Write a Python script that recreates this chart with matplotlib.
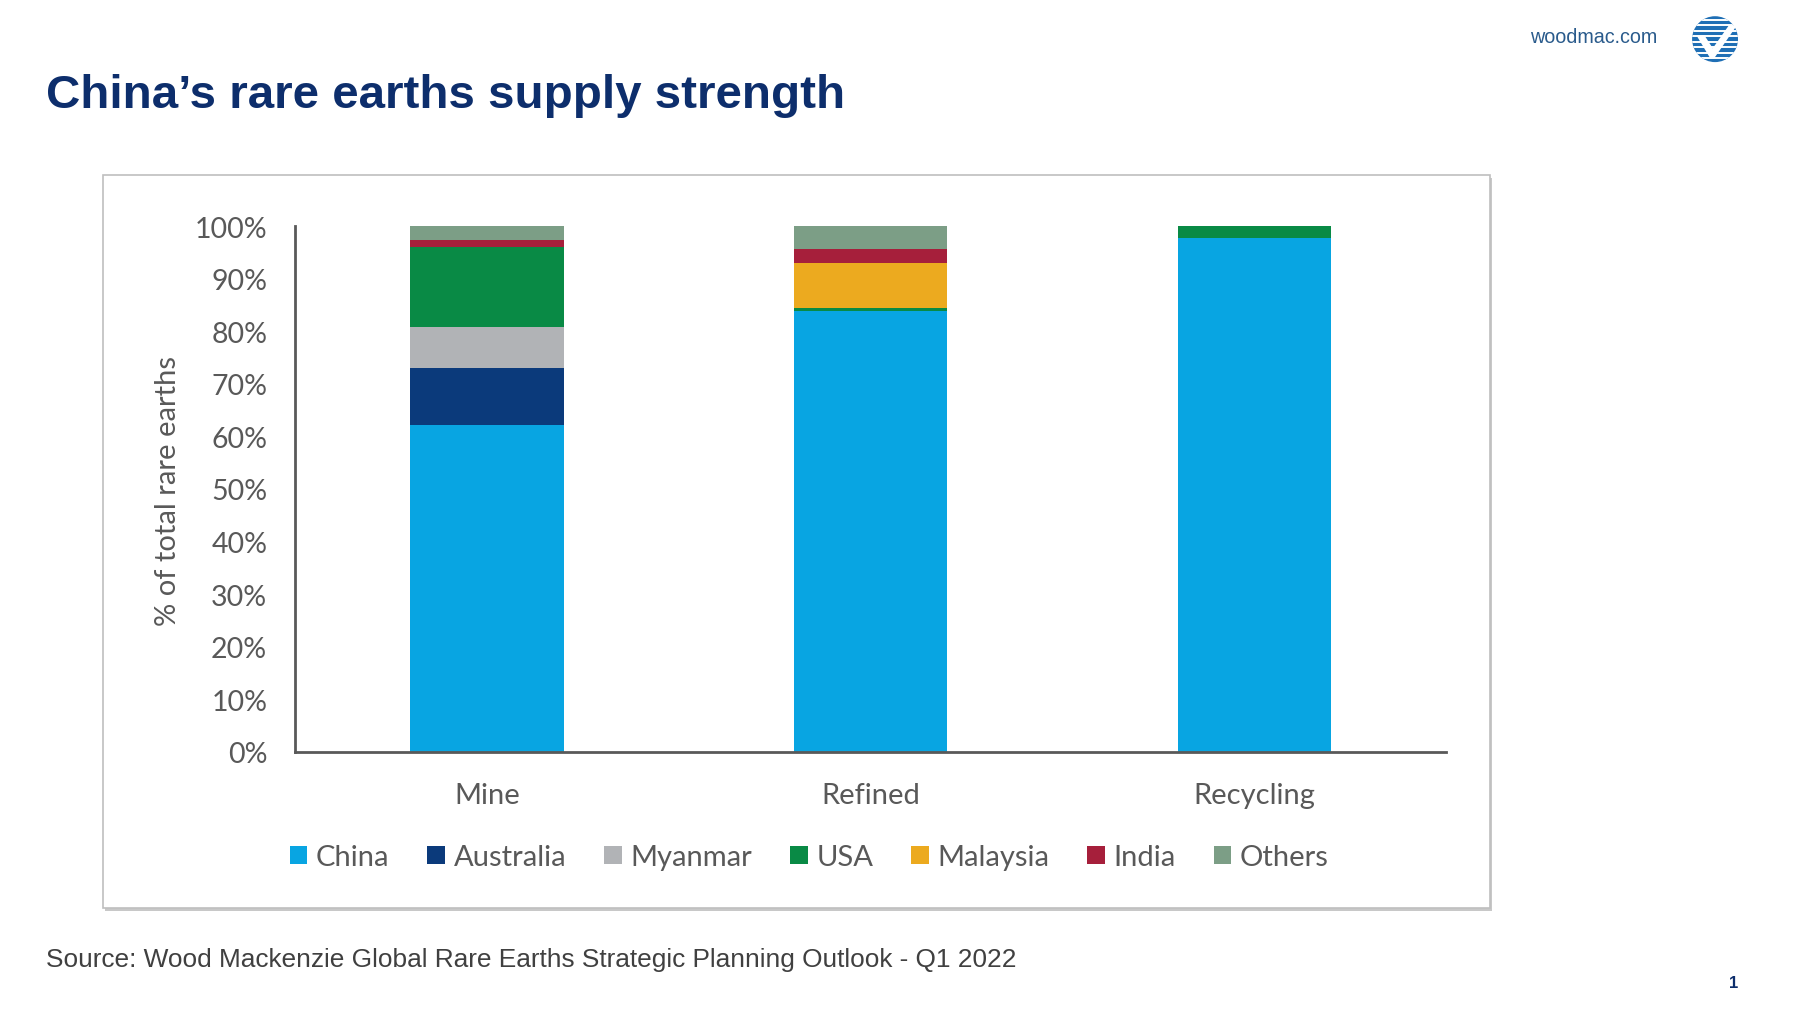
import numpy as np
import matplotlib
matplotlib.use('Agg')
import matplotlib.pyplot as plt
from matplotlib.patches import Rectangle, Circle, Polygon

# values, % of total rare earths
stages = ['Mine', 'Refined', 'Recycling']
countries = ['China', 'Australia', 'Myanmar', 'USA', 'Malaysia', 'India', 'Others']
china = [62.1, 83.8, 97.8]
australia = [11.0, 0.0, 0.0]
myanmar = [7.8, 0.0, 0.0]
usa = [15.1, 0.7, 2.2]
malaysia = [0.0, 8.4, 0.0]
india = [1.3, 2.7, 0.0]
others = [2.7, 4.4, 0.0]
yticks = [0, 10, 20, 30, 40, 50, 60, 70, 80, 90, 100]

colors = ['#08A5E2', '#0B3A7B', '#B1B3B6', '#098A45', '#ECAA1F', '#A61F3B', '#7C9E86']
navy = '#0D2E6C'
grey_txt = '#595959'

# layout measured on the reference in screen pixels
W, H = 1568.0, 882.0


def fx(px):
    return px / W


def fy(py):
    return 1 - py / H


fig = plt.figure(figsize=(18, 10.12), dpi=100)
fig.patch.set_facecolor('white')

# slide frame with a soft shadow
fw, fh = fx(1298) - fx(90), fy(153) - fy(792)
fig.patches.append(Rectangle((fx(91.5), fy(795)), fw, fh, transform=fig.transFigure,
                             facecolor='#C8C8C8', edgecolor='none', zorder=-3))
fig.patches.append(Rectangle((fx(90), fy(792)), fw, fh, transform=fig.transFigure,
                             facecolor='white', edgecolor='#BFBFBF', lw=1.2, zorder=-2))

ax = fig.add_axes([fx(257), fy(656), fx(1260) - fx(257), fy(198) - fy(656)])
ax.set_facecolor('none')
x = np.arange(len(stages))
bottom = np.zeros(len(stages))
for name, vals, col in zip(countries, [china, australia, myanmar, usa, malaysia, india, others], colors):
    ax.bar(x, vals, 0.4, bottom=bottom, color=col, label=name, zorder=2)
    bottom += np.array(vals)

ax.set_xlim(-0.5, 2.5)
ax.set_ylim(0, 100)
ax.set_yticks(yticks)
ax.set_yticklabels([f'{v}%' for v in yticks], fontsize=20.5, color=grey_txt, family='Lato')
ax.set_xticks(x)
ax.set_xticklabels(stages, fontsize=21, color=grey_txt, family='Lato')
ax.tick_params(axis='y', length=0, pad=20)
ax.tick_params(axis='x', length=0, pad=22)
for s in ['top', 'right']:
    ax.spines[s].set_visible(False)
for s in ['left', 'bottom']:
    ax.spines[s].set_color('#595959')
    ax.spines[s].set_linewidth(2)

fig.text(fx(146), fy(428), '% of total rare earths', rotation=90, ha='center', va='center',
         fontsize=21, color=grey_txt, family='Lato')

handles, labels = ax.get_legend_handles_labels()
fig.legend(handles, labels, loc='center', bbox_to_anchor=(fx(705), fy(748)), ncol=7, frameon=False,
           prop={'family': 'Lato', 'size': 21}, labelcolor=grey_txt, handlelength=0.6,
           handleheight=0.6, handletextpad=0.3, columnspacing=1.3)

fig.text(fx(40), fy(94), 'China\u2019s rare earths supply strength', fontsize=34.2, fontweight='bold',
         color=navy, family='Liberation Sans', va='baseline')
fig.text(fx(40), fy(843), 'Source: Wood Mackenzie Global Rare Earths Strategic Planning Outlook - Q1 2022',
         fontsize=18.9, color='#404040', family='Liberation Sans', va='baseline')
fig.text(fx(1444), fy(33), 'woodmac.com', fontsize=14.2, color='#2A5B8C', family='Liberation Sans',
         ha='right', va='center')
fig.text(fx(1510), fy(857), '1', fontsize=12, fontweight='bold', color=navy, family='Liberation Sans',
         ha='center', va='center')

# logo: striped circle with a check mark
r = 21.0
lax = fig.add_axes([fx(1494 - r), fy(35 + r), fx(2 * r), 2 * r / H])
lax.set_xlim(-1.05, 1.05)
lax.set_ylim(-1.05, 1.05)
lax.axis('off')
circ = Circle((0, 0), 1, facecolor='#1F6FB5', edgecolor='none')
lax.add_patch(circ)
for yy in np.linspace(-0.84, 0.84, 8):
    ln, = lax.plot([-1.1, 1.1], [yy, yy], color='white', lw=1.4)
    ln.set_clip_path(circ)
check = Polygon([(-0.8, 0.15), (-0.45, 0.15), (-0.1, -0.4), (0.6, 0.6), (0.95, 0.6),
                 (-0.05, -0.85), (-0.2, -0.85)], closed=True, facecolor='white', edgecolor='none')
lax.add_patch(check)

fig.savefig('out.png', dpi=100)
